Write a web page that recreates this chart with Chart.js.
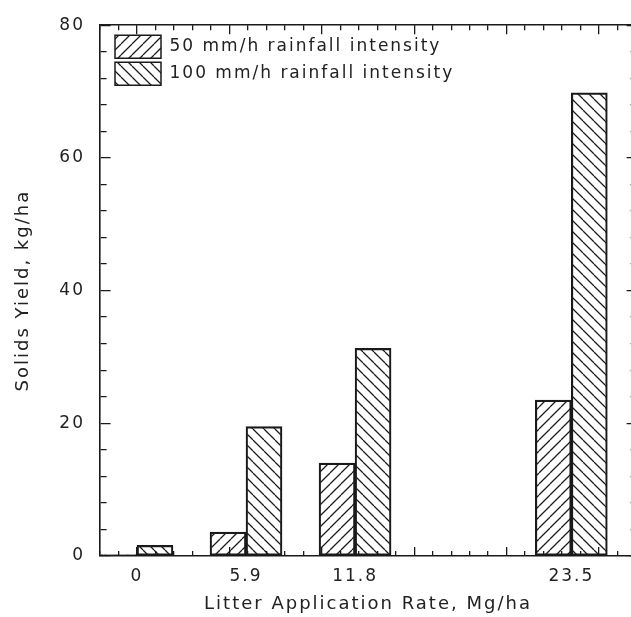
<!DOCTYPE html>
<html lang="en">
<head>
    <meta charset="UTF-8">
    <title>Solids Yield vs Litter Application Rate</title>
    <script src="https://cdn.jsdelivr.net/npm/chart.js"></script>
    <style>
        html, body {
            margin: 0;
            padding: 0;
            background: #fff;
            overflow: hidden;
        }
        #chartBox {
            width: 646px;
            height: 617px;
        }
    </style>
</head>
<body>
    <div id="chartBox">
        <canvas id="yieldChart"></canvas>
    </div>

    <script>
        // litter application rates (Mg/ha) and solids yield (kg/ha)
        const rates = [0, 5.9, 11.8, 23.5];
        const yield50 = [0.2, 3.6, 14.0, 23.5];
        const yield100 = [1.6, 19.5, 31.3, 69.8];
        const seriesNames = ['50 mm/h rainfall intensity', '100 mm/h rainfall intensity'];
        const xRange = [-2, 27];
        const yRange = [0, 80];

        const ink = '#1a1a1a';
        const fontFamily = "'DejaVu Sans', sans-serif";

        // diagonal hatch fills
        function hatch(rising) {
            const s = 11;
            const c = document.createElement('canvas');
            c.width = s;
            c.height = s;
            const g = c.getContext('2d');
            g.strokeStyle = ink;
            g.lineWidth = 1.25;
            g.beginPath();
            for (let k = -1; k <= 1; k++) {
                if (rising) {
                    g.moveTo(k * s, s);
                    g.lineTo(k * s + s, 0);
                } else {
                    g.moveTo(k * s, 0);
                    g.lineTo(k * s + s, s);
                }
            }
            g.stroke();
            return g.createPattern(c, 'repeat');
        }

        // x ticks: every unit, plus the labelled rates
        const xTicks = [];
        for (let v = xRange[0]; v <= xRange[1]; v++) xTicks.push(v);
        rates.forEach(r => { if (!xTicks.includes(r)) xTicks.push(r); });
        xTicks.sort((a, b) => a - b);

        // short inward tick marks on both sides, made from dashed grid lines
        function edgeDash(c, horizontal, majorEvery, majorLen, minorLen) {
            if (!c.tick) return [];
            const a = c.chart.chartArea;
            const span = horizontal ? a.bottom - a.top : a.right - a.left;
            const v = c.tick.value;
            const len = (Number.isInteger(v) && v % majorEvery === 0) ? majorLen : minorLen;
            return [len, span - 2 * len, len, 2000];
        }

        const textSpacing = {
            id: 'textSpacing',
            beforeLayout(chart) { chart.ctx.letterSpacing = '2px'; },
            beforeDraw(chart) { chart.ctx.letterSpacing = '2px'; }
        };

        // put the legend inside the plot, top left
        const legendInside = {
            id: 'legendInside',
            beforeDraw(chart) {
                const lg = chart.legend;
                if (!lg) return;
                lg.left = chart.chartArea.left + 11;
                lg.top = chart.chartArea.top + 6;
            }
        };

        const toPoints = ys => rates.map((r, i) => ({ x: r, y: ys[i] }));

        new Chart(document.getElementById('yieldChart'), {
            type: 'bar',
            data: {
                datasets: [
                    {
                        label: seriesNames[0],
                        data: toPoints(yield50),
                        backgroundColor: hatch(true),
                        borderColor: ink,
                        borderWidth: 1.5,
                        borderSkipped: false,
                        barThickness: 36,
                        xAxisID: 'x',
                        yAxisID: 'y'
                    },
                    {
                        label: seriesNames[1],
                        data: toPoints(yield100),
                        backgroundColor: hatch(false),
                        borderColor: ink,
                        borderWidth: 1.5,
                        borderSkipped: false,
                        barThickness: 36,
                        xAxisID: 'x',
                        yAxisID: 'y'
                    }
                ]
            },
            options: {
                responsive: true,
                maintainAspectRatio: false,
                animation: false,
                layout: {
                    padding: { top: 19, right: 10, bottom: 0, left: 0 }
                },
                scales: {
                    x: {
                        type: 'linear',
                        position: 'bottom',
                        min: xRange[0],
                        max: xRange[1],
                        offset: false,
                        afterBuildTicks: scale => {
                            scale.ticks = xTicks.map(v => ({ value: v }));
                        },
                        afterFit: scale => { scale.height = 61; },
                        ticks: {
                            autoSkip: false,
                            maxRotation: 0,
                            padding: 10,
                            color: '#222',
                            font: { family: fontFamily, size: 17 },
                            callback: value => rates.includes(value) ? String(value) : ''
                        },
                        grid: {
                            offset: false,
                            drawOnChartArea: true,
                            drawTicks: false,
                            lineWidth: 1.3,
                            color: c => (c.tick && !Number.isInteger(c.tick.value)) ? 'rgba(0,0,0,0)' : ink
                        },
                        border: {
                            display: true,
                            color: ink,
                            width: 1.6,
                            dash: c => edgeDash(c, true, 5, 9, 5)
                        },
                        title: {
                            display: true,
                            text: 'Litter Application Rate, Mg/ha',
                            color: '#222',
                            font: { family: fontFamily, size: 18 },
                            padding: { top: 2, bottom: 2 }
                        }
                    },
                    x2: {
                        type: 'linear',
                        position: 'top',
                        min: xRange[0],
                        max: xRange[1],
                        offset: false,
                        ticks: { display: false },
                        grid: { display: false, drawTicks: false },
                        border: { display: true, color: ink, width: 1.6 }
                    },
                    y: {
                        type: 'linear',
                        position: 'left',
                        min: yRange[0],
                        max: yRange[1],
                        afterFit: scale => { scale.width = 100; },
                        ticks: {
                            stepSize: 4,
                            autoSkip: false,
                            padding: 15,
                            color: '#222',
                            font: { family: fontFamily, size: 17 },
                            callback: value => value % 20 === 0 ? String(value) : ''
                        },
                        grid: {
                            drawOnChartArea: true,
                            drawTicks: false,
                            lineWidth: 1.3,
                            color: ink
                        },
                        border: {
                            display: true,
                            color: ink,
                            width: 1.6,
                            dash: c => edgeDash(c, false, 20, 10, 6)
                        },
                        title: {
                            display: true,
                            text: 'Solids Yield, kg/ha',
                            color: '#222',
                            font: { family: fontFamily, size: 18 },
                            padding: { top: 13, bottom: 13 }
                        }
                    },
                    y2: {
                        type: 'linear',
                        position: 'right',
                        min: yRange[0],
                        max: yRange[1],
                        ticks: { display: false },
                        grid: { display: false, drawTicks: false },
                        border: { display: true, color: ink, width: 1.6 }
                    }
                },
                plugins: {
                    legend: {
                        display: true,
                        position: 'chartArea',
                        align: 'start',
                        labels: {
                            boxWidth: 46,
                            boxHeight: 23,
                            padding: 4,
                            color: '#222',
                            font: { family: fontFamily, size: 17 }
                        }
                    },
                    tooltip: { enabled: false }
                }
            },
            plugins: [textSpacing, legendInside]
        });
    </script>
</body>
</html>
